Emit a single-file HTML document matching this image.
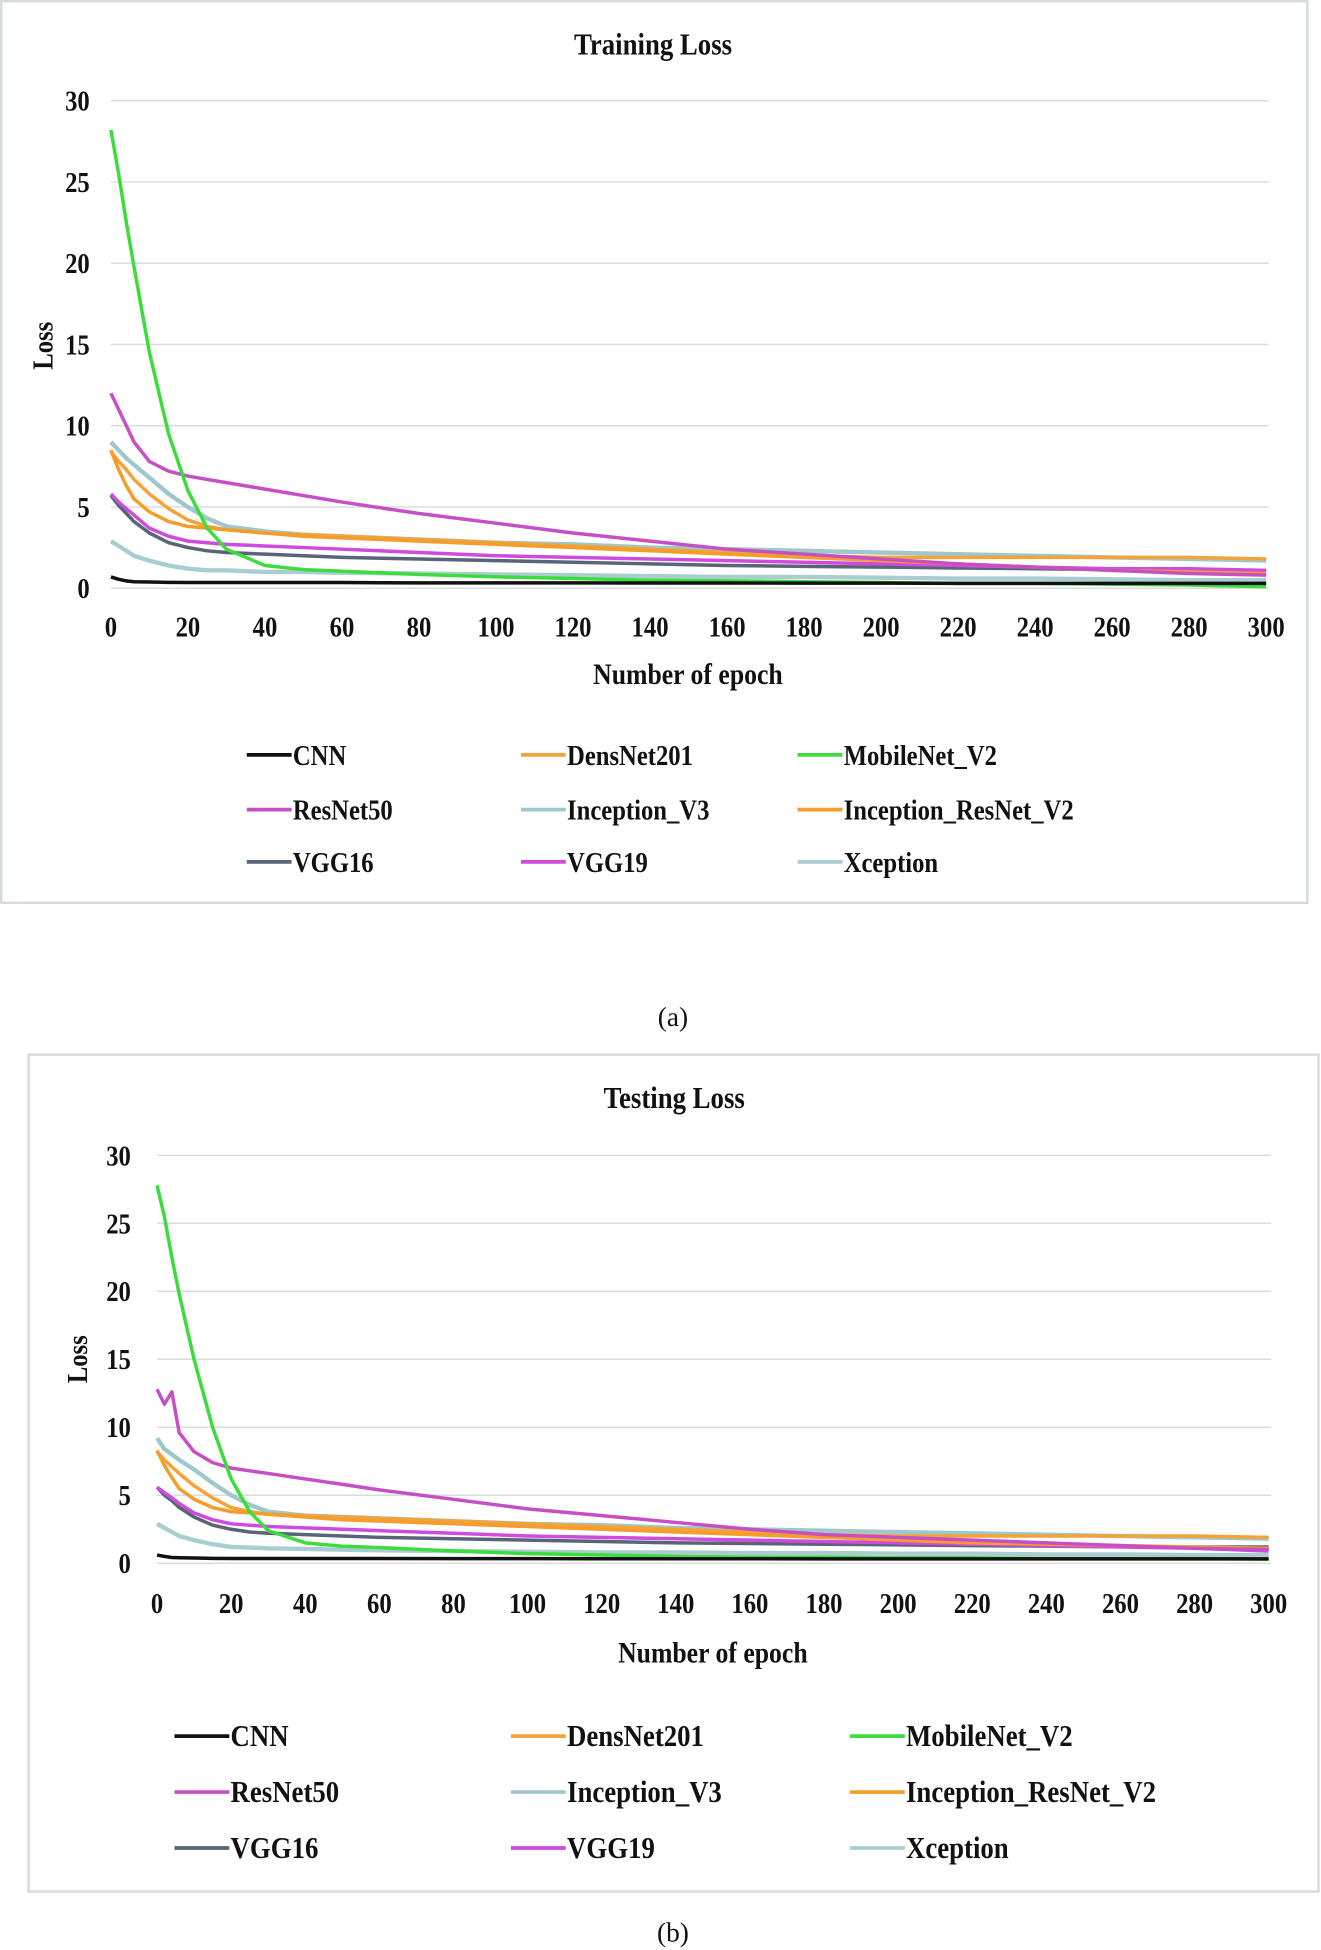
<!DOCTYPE html>
<html><head><meta charset="utf-8"><style>
html,body{margin:0;padding:0;background:#fff;}
svg{display:block;}
text{font-family:"Liberation Serif",serif;fill:#111;}
</style></head><body>
<svg id="root" width="1321" height="1950" viewBox="0 0 1060 1568" preserveAspectRatio="none">
<rect x="1" y="1" width="1048" height="725" fill="#fff" stroke="#d6dcdc" stroke-width="2"/>
<rect x="23" y="848" width="1035" height="673" fill="#fff" stroke="#d6dcdc" stroke-width="2"/>
<text x="540" y="825" font-size="22" text-anchor="middle">(a)</text>
<text x="540" y="1561" font-size="22" text-anchor="middle">(b)</text>
<g id="ca"></g><g id="cb"></g>
</svg>
<script>
const epochs=[0,2,4,6,10,15,20,25,30,40,50,60,80,100,120,140,160,180,200,220,240,260,280,300];
const xTicks=[0,20,40,60,80,100,120,140,160,180,200,220,240,260,280,300];
const yTicks=[0,5,10,15,20,25,30];
const seriesNames=["CNN","DensNet201","MobileNet_V2","ResNet50","Inception_V3","Inception_ResNet_V2","VGG16","VGG19","Xception"];
const trainCNN=[0.7,0.55,0.45,0.4,0.38,0.36,0.35,0.35,0.35,0.35,0.35,0.35,0.33,0.33,0.33,0.32,0.32,0.31,0.31,0.3,0.3,0.3,0.3,0.3];
const trainDens=[8.4,7.8,7.3,6.7,5.8,4.9,4.2,3.8,3.6,3.4,3.3,3.2,3.0,2.8,2.6,2.4,2.2,2.0,1.9,1.9,1.9,1.9,1.9,1.8];
const trainMobile=[28.2,25.5,22.5,19.8,14.5,9.5,6.0,3.7,2.4,1.4,1.15,1.05,0.85,0.7,0.6,0.5,0.45,0.4,0.35,0.3,0.3,0.25,0.2,0.1];
const trainRes50=[12,11,10,9,7.8,7.2,6.9,6.7,6.5,6.1,5.7,5.3,4.6,4.0,3.4,2.9,2.4,2.1,1.8,1.5,1.3,1.1,0.9,0.8];
const trainIncV3=[9,8.5,8,7.6,6.8,5.8,5.0,4.3,3.8,3.5,3.3,3.2,3.0,2.8,2.7,2.5,2.4,2.3,2.2,2.1,2.0,1.9,1.8,1.7];
const trainIRV2=[8.5,7.3,6.3,5.5,4.7,4.1,3.8,3.7,3.6,3.4,3.2,3.1,2.9,2.7,2.5,2.3,2.1,1.9,1.7,1.5,1.3,1.1,1.0,0.9];
const trainVGG16=[5.7,5.1,4.6,4.1,3.4,2.8,2.5,2.3,2.2,2.1,2.0,1.9,1.8,1.7,1.6,1.5,1.4,1.35,1.3,1.25,1.2,1.15,1.1,1.1];
const trainVGG19=[5.8,5.3,4.9,4.5,3.7,3.2,2.9,2.8,2.7,2.6,2.5,2.4,2.2,2.0,1.9,1.8,1.7,1.6,1.5,1.4,1.3,1.2,1.2,1.1];
const trainXcep=[2.9,2.6,2.3,2.0,1.7,1.4,1.2,1.1,1.1,1.0,1.0,0.95,0.9,0.85,0.8,0.75,0.7,0.7,0.65,0.6,0.6,0.55,0.5,0.5];
const testCNN=[0.6,0.5,0.42,0.4,0.38,0.36,0.35,0.35,0.35,0.35,0.35,0.35,0.34,0.34,0.33,0.33,0.33,0.32,0.32,0.32,0.32,0.32,0.32,0.32];
const testDens=[8.2,7.6,7.1,6.6,5.7,4.8,4.1,3.8,3.6,3.5,3.4,3.3,3.1,2.9,2.7,2.5,2.3,2.1,2.0,2.0,2.0,2.0,2.0,1.9];
const testMobile=[27.8,25.5,22.5,19.8,15,10,6.2,3.8,2.4,1.5,1.25,1.15,0.9,0.7,0.6,0.5,0.45,0.45,0.4,0.4,0.35,0.35,0.35,0.3];
const testRes50=[12.8,11.7,12.6,9.6,8.2,7.4,7.0,6.8,6.6,6.2,5.8,5.4,4.7,4.0,3.5,3.0,2.5,2.1,1.9,1.7,1.5,1.3,1.1,1.0];
const testIncV3=[9.2,8.4,8,7.6,6.9,5.9,5.0,4.3,3.8,3.5,3.4,3.3,3.1,2.9,2.8,2.6,2.5,2.4,2.3,2.2,2.1,2.0,1.9,1.8];
const testIRV2=[8.3,7.2,6.3,5.5,4.7,4.1,3.8,3.7,3.6,3.4,3.2,3.1,2.9,2.7,2.5,2.3,2.1,1.9,1.7,1.5,1.4,1.3,1.2,1.1];
const testVGG16=[5.6,5.0,4.6,4.1,3.4,2.8,2.5,2.3,2.2,2.1,2.0,1.9,1.8,1.7,1.6,1.5,1.45,1.4,1.35,1.3,1.25,1.2,1.2,1.2];
const testVGG19=[5.6,5.2,4.8,4.4,3.7,3.2,2.9,2.8,2.7,2.6,2.5,2.4,2.2,2.0,1.9,1.8,1.7,1.6,1.5,1.4,1.3,1.2,1.1,0.9];
const testXcep=[2.9,2.6,2.3,2.0,1.7,1.4,1.2,1.15,1.1,1.05,1.0,0.95,0.9,0.85,0.8,0.8,0.75,0.75,0.7,0.7,0.65,0.65,0.6,0.6];
const colors=["#111111","#f4a23a","#3ddc3d","#c64fc6","#9ec8cc","#f59d2a","#5a6478","#d04ae0","#a9cdd0"];
const NS="http://www.w3.org/2000/svg";
const SX=0.86;
function mk(parent,tag,attrs,txt){const e=document.createElementNS(NS,tag);for(const k in attrs)e.setAttribute(k,attrs[k]);if(txt!==undefined)e.textContent=txt;parent.appendChild(e);return e;}
function txt(parent,x,y,size,anchor,s,rot){
  const tr=`translate(${x},${y})`+(rot?' rotate(-90)':'')+` scale(${SX},1)`;
  return mk(parent,'text',{x:0,y:0,'font-size':size,'font-weight':'bold','text-anchor':anchor,transform:tr},s);
}
function draw(gid,cfg,data){
  const g=document.getElementById(gid);
  const xs=v=>cfg.x0+(cfg.x1-cfg.x0)*v/300;
  const ys=v=>cfg.y0-(cfg.y0-cfg.y1)*v/30;
  let t=txt(g,cfg.tx,cfg.ty,25,'middle',cfg.title);
  
  
  yTicks.forEach(v=>{
    let l=mk(g,'line',{x1:cfg.x0,x2:cfg.x1+2,y1:ys(v),y2:ys(v),stroke:'#d9dddd','stroke-width':1.2});
    
    
    let tt=txt(g,cfg.ylx,ys(v)+8,23,'end',v);
    
    
  });
  xTicks.forEach(v=>{
    let tt=txt(g,xs(v),cfg.xly,23,'middle',v);
    
    
  });
  let yt=txt(g,cfg.yax,cfg.yay,23,'middle','Loss',true);
  
  
  let xt=txt(g,cfg.xax,cfg.xay,24,'middle','Number of epoch');
  
  
  const order=[8,6,7,4,1,5,3,2,0];
  order.forEach(i=>{
    const pts=epochs.map((e,j)=>xs(e).toFixed(1)+','+ys(data[i][j]).toFixed(1)).join(' ');
    let p=mk(g,'polyline',{points:pts,fill:'none',stroke:colors[i],'stroke-width':i==4||i==8?3.5:2.8,'stroke-linejoin':'round'});
    
    
  });
  seriesNames.forEach((n,i)=>{
    const cx=cfg.lx[i%3], cy=cfg.ly[Math.floor(i/3)];
    let lg=mk(g,'g',{});
    
    
    mk(lg,'line',{x1:cx,x2:cx+cfg.ll,y1:cy,y2:cy,stroke:colors[i],'stroke-width':3});
    txt(lg,cx+cfg.ll+1,cy+8,cfg.lfs,'start',n);
  });
}
draw('ca',{title:'Training Loss',tx:524,ty:44,x0:89,x1:1016,y0:473,y1:81,ylx:72,xly:512,yax:42,yay:278,xax:552,xay:550,lx:[198,418,640],ly:[607,651,693],ll:36,lfs:23},
 [trainCNN,trainDens,trainMobile,trainRes50,trainIncV3,trainIRV2,trainVGG16,trainVGG19,trainXcep]);
draw('cb',{title:'Testing  Loss',tx:541,ty:891,x0:126,x1:1018,y0:1257,y1:929,ylx:105,xly:1297,yax:70,yay:1093,xax:572,xay:1337,lx:[140,410,682],ly:[1396,1441,1486],ll:44,lfs:25},
 [testCNN,testDens,testMobile,testRes50,testIncV3,testIRV2,testVGG16,testVGG19,testXcep]);
</script>
</body></html>
